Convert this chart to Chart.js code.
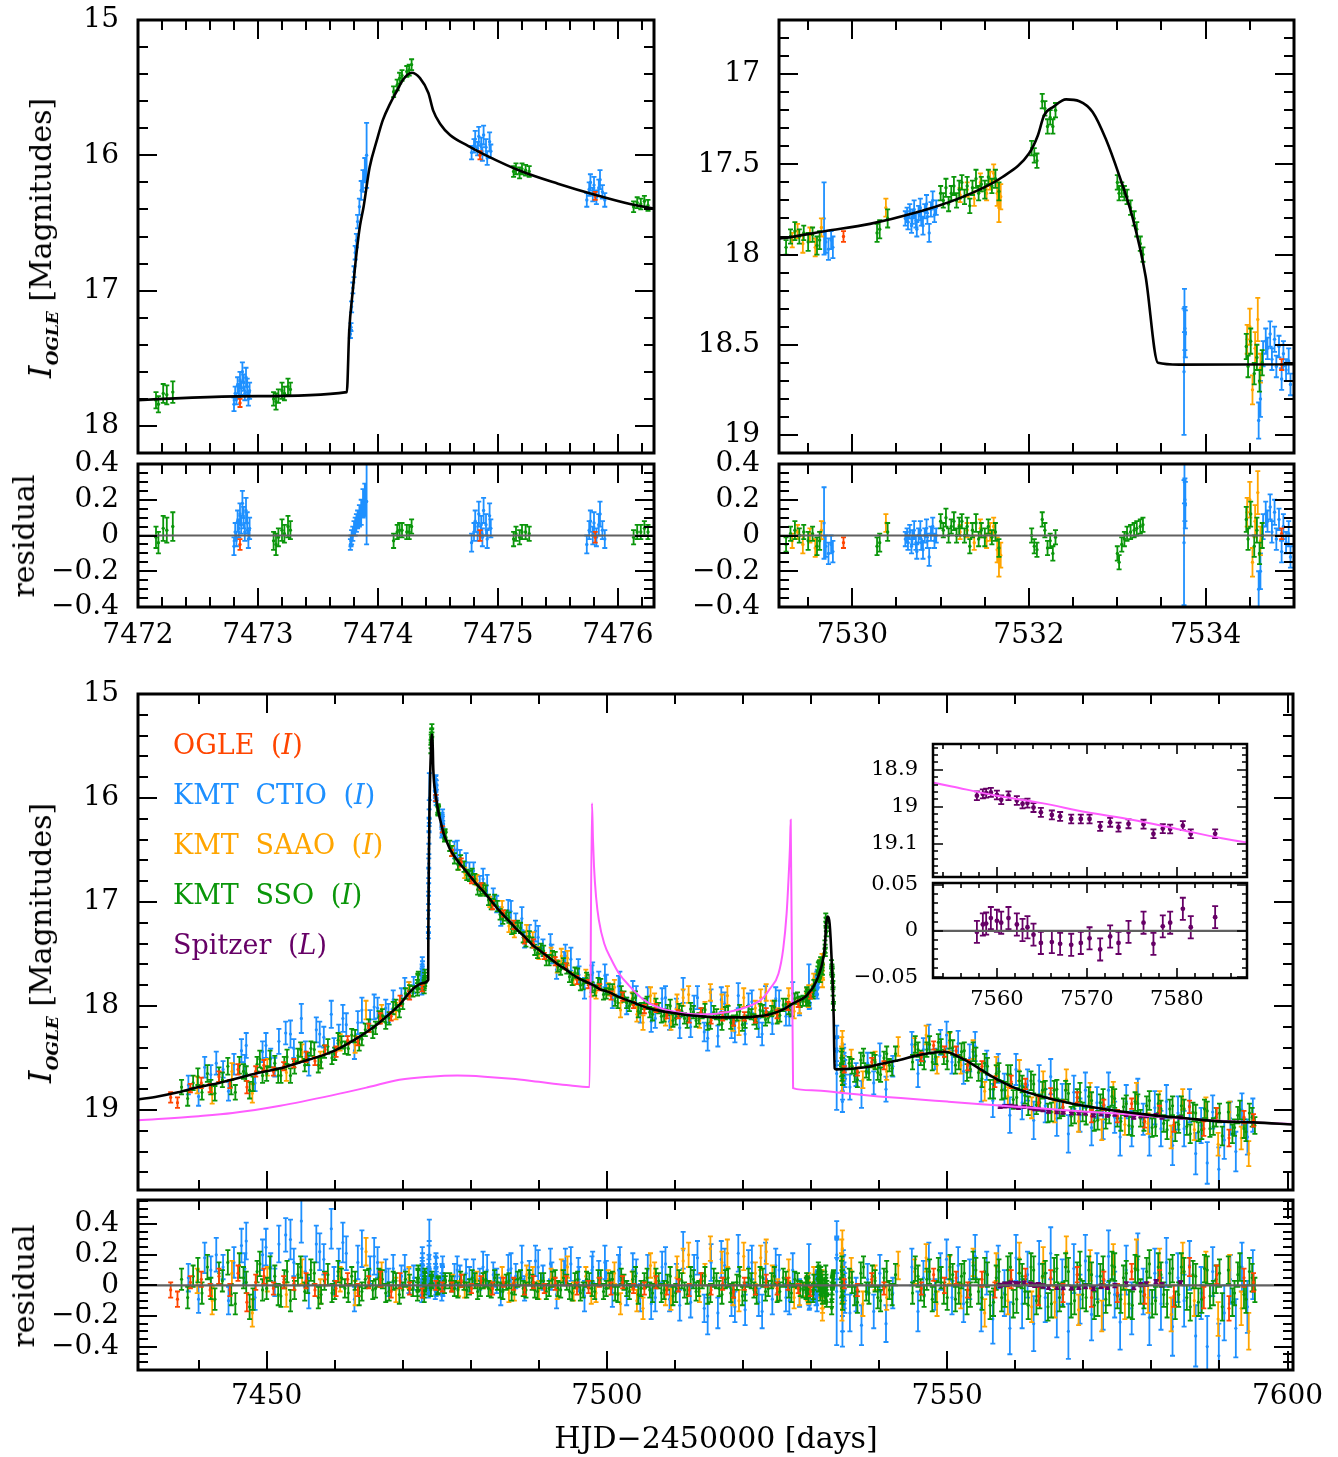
<!DOCTYPE html>
<html>
<head>
<meta charset="utf-8">
<title>OGLE / KMT / Spitzer light curve</title>
<script src="https://cdn.jsdelivr.net/npm/chart.js@4.4.1/dist/chart.umd.min.js"></script>
<style>
  body { margin: 0; background: #fff; }
  #page { position: relative; width: 1338px; height: 1457px; overflow: hidden; background: #fff; font-family: 'DejaVu Serif', serif; color: #000; }
  canvas { position: absolute; }
  .ttl { position: absolute; white-space: nowrap; font-size: 30px; line-height: 36px; }
  .rot { transform: translate(-50%, -50%) rotate(-90deg); }
  .hor { transform: translate(-50%, -50%); }
  #legend { position: absolute; left: 173px; top: 720px; font-size: 27px; line-height: 50px; word-spacing: 8px; white-space: nowrap; }
</style>
</head>
<body>
<div id="page">
  <canvas id="tl"></canvas>
  <canvas id="tlr"></canvas>
  <canvas id="tr"></canvas>
  <canvas id="trr"></canvas>
  <canvas id="main"></canvas>
  <canvas id="mainr"></canvas>
  <canvas id="ins"></canvas>
  <canvas id="insr"></canvas>

  <div class="ttl rot" style="left:46px; top:238px;"><i style="font-size:32px">I</i><sub style="font-size:17px; font-style:italic; font-weight:bold;">OGLE</sub>&nbsp;[Magnitudes]</div>
  <div class="ttl rot" style="left:24px; top:536px;">residual</div>
  <div class="ttl rot" style="left:46px; top:943px;"><i style="font-size:32px">I</i><sub style="font-size:17px; font-style:italic; font-weight:bold;">OGLE</sub>&nbsp;[Magnitudes]</div>
  <div class="ttl rot" style="left:24px; top:1286px;">residual</div>
  <div class="ttl hor" style="left:716px; top:1438px;">HJD&minus;2450000 [days]</div>

  <div id="legend">
    <div style="color:#ff4500">OGLE (<i>I</i>)</div>
    <div style="color:#1e90ff">KMT CTIO (<i>I</i>)</div>
    <div style="color:#ffa500">KMT SAAO (<i>I</i>)</div>
    <div style="color:#0a960a">KMT SSO (<i>I</i>)</div>
    <div style="color:#660066">Spitzer (<i>L</i>)</div>
  </div>
</div>

<script>
// rows: [HJD-2450000, magnitude, error, residual]
const ogle = [
  [7435.9,18.88,0.05,-0.03],[7436.9,18.93,0.05,-0.09],[7438.8,18.79,0.04,0.02],[7440.4,18.74,0.05,0.04],
  [7441.7,18.79,0.04,-0.03],[7443.0,18.68,0.05,0.06],[7444.6,18.75,0.04,-0.03],[7445.8,18.61,0.05,0.08],
  [7447.1,18.78,0.06,-0.11],[7448.4,18.63,0.05,0.02],[7449.6,18.57,0.05,0.06],[7451.0,18.63,0.04,-0.02],
  [7452.5,18.58,0.04,0.02],[7454.0,18.55,0.04,0.01],[7455.8,18.49,0.05,0.03],[7457.1,18.53,0.04,-0.03],
  [7458.6,18.42,0.04,0.04],[7460.2,18.44,0.05,-0.02],[7461.9,18.33,0.04,0.04],[7463.4,18.34,0.04,-0.03],
  [7465.0,18.21,0.04,0.02],[7466.7,18.12,0.05,0.04],[7468.3,18.10,0.04,-0.04],[7469.6,17.95,0.05,0.03],
  [7471.0,17.90,0.04,-0.02],[7472.85,17.83,0.03,-0.05],[7474.85,16.00,0.03,0.00],[7475.81,16.30,0.03,-0.01],
  [7477.2,16.53,0.03,-0.01],[7478.6,16.62,0.04,0.03],[7480.1,16.79,0.03,-0.02],[7481.5,16.85,0.03,0.03],
  [7483.2,17.03,0.04,-0.02],[7484.8,17.11,0.03,0.02],[7486.3,17.22,0.04,0.01],[7487.9,17.37,0.03,-0.03],
  [7489.2,17.40,0.04,0.02],[7490.8,17.52,0.03,-0.02],[7492.4,17.57,0.04,0.01],[7494.0,17.62,0.03,0.03],
  [7495.6,17.75,0.04,-0.02],[7497.3,17.79,0.04,-0.01],[7498.9,17.82,0.03,0.02],[7500.6,17.90,0.04,-0.02],
  [7502.3,17.91,0.04,0.02],[7503.9,17.99,0.03,-0.02],[7505.5,18.03,0.04,-0.02],[7507.2,18.02,0.04,0.02],
  [7508.8,18.09,0.03,-0.03],[7510.5,18.08,0.04,0.00],[7512.1,18.12,0.04,-0.03],[7513.8,18.06,0.04,0.04],
  [7515.3,18.14,0.03,-0.03],[7517.0,18.10,0.04,0.01],[7518.6,18.15,0.04,-0.04],[7520.2,18.10,0.04,0.01],
  [7521.8,18.13,0.03,-0.03],[7523.4,18.06,0.04,0.03],[7525.0,18.08,0.04,-0.02],[7526.6,18.00,0.04,0.01],
  [7528.1,17.98,0.03,-0.02],[7529.90,17.90,0.03,-0.04],[7534.86,18.61,0.03,0.01],
  [7536.8,18.63,0.04,-0.03],[7538.9,18.54,0.04,0.04],[7540.7,18.57,0.04,-0.02],[7546.2,18.49,0.04,-0.02],
  [7548.0,18.38,0.04,0.07],[7549.6,18.44,0.05,0.00],[7551.3,18.43,0.04,0.05],[7553.0,18.57,0.05,-0.03],
  [7555.1,18.58,0.05,0.04],[7557.0,18.73,0.05,-0.03],[7559.4,18.73,0.06,0.04],[7561.5,18.75,0.05,0.06],
  [7563.4,18.93,0.06,-0.07],[7565.2,18.84,0.05,0.05],[7567.0,18.97,0.06,-0.05],[7569.1,18.88,0.05,0.07],
  [7571.2,19.06,0.06,-0.08],[7573.0,18.95,0.05,0.04],[7575.0,19.06,0.06,-0.05],[7577.1,18.94,0.05,0.09],
  [7579.0,19.11,0.06,-0.06],[7581.2,19.01,0.05,0.05],[7583.3,19.14,0.07,-0.07],[7585.6,18.97,0.06,0.12],
  [7587.7,19.18,0.07,-0.08],[7589.6,19.04,0.06,0.07],[7591.4,19.27,0.08,-0.15],[7593.6,19.07,0.06,0.05],
  [7595.0,19.10,0.06,0.02]
];

const ctio = [
  [7440.0,18.87,0.09,-0.09],[7440.9,18.59,0.10,0.18],[7441.8,18.66,0.09,0.10],[7443.6,18.61,0.08,0.12],
  [7445.2,18.56,0.10,0.15],[7446.3,18.43,0.11,0.26],[7447.0,18.38,0.12,0.29],[7448.3,18.74,0.08,-0.08],
  [7449.4,18.44,0.10,0.20],[7450.6,18.50,0.09,0.12],[7451.8,18.34,0.12,0.27],[7452.8,18.26,0.11,0.33],
  [7454.0,18.41,0.09,0.15],[7455.1,18.12,0.14,0.42],[7456.2,18.57,0.10,-0.05],[7457.3,18.23,0.12,0.27],
  [7458.4,18.30,0.10,0.17],[7459.5,18.08,0.13,0.37],[7460.6,18.27,0.09,0.15],[7461.7,18.18,0.11,0.21],
  [7462.9,18.43,0.08,-0.09],[7464.0,18.04,0.12,0.24],[7465.2,18.13,0.09,0.10],[7466.3,18.02,0.10,0.15],
  [7467.5,18.02,0.08,0.09],[7468.6,17.94,0.09,0.11],[7469.8,17.90,0.07,0.06],[7470.9,17.85,0.08,0.03],
  [7438.5,18.76,0.09,0.05],[7442.6,18.55,0.11,0.20],[7444.4,18.82,0.09,-0.10],[7446.8,18.57,0.10,0.11],
  [7449.9,18.38,0.12,0.25],[7451.2,18.59,0.09,0.02],[7453.5,18.27,0.13,0.30],[7455.7,18.44,0.10,0.09],
  [7457.8,18.27,0.12,0.22],[7459.9,18.40,0.09,0.03],[7461.2,18.12,0.13,0.28],[7463.4,18.16,0.11,0.15],
  [7465.8,18.01,0.12,0.19],[7467.9,18.07,0.09,0.02],[7470.3,17.83,0.10,0.10],[7471.6,17.80,0.08,0.05],
  [7472.80,17.84,0.05,-0.06],[7472.81,17.76,0.05,0.02],[7472.82,17.80,0.04,-0.02],[7472.83,17.70,0.06,0.08],
  [7472.84,17.74,0.05,0.04],[7472.85,17.66,0.06,0.12],[7472.86,17.72,0.05,0.06],[7472.87,17.60,0.07,0.18],
  [7472.88,17.68,0.06,0.10],[7472.89,17.76,0.05,0.02],[7472.90,17.64,0.07,0.14],[7472.91,17.71,0.06,0.07],
  [7472.92,17.80,0.05,-0.02],[7472.93,17.74,0.06,0.04],
  [7473.770,17.32,0.03,-0.05],[7473.775,17.27,0.03,-0.03],[7473.780,17.12,0.04,-0.01],[7473.790,16.98,0.04,0.01],
  [7473.800,16.86,0.04,0.04],[7473.810,16.72,0.05,0.05],[7473.820,16.63,0.05,0.07],[7473.830,16.49,0.05,0.09],
  [7473.845,16.38,0.06,0.11],[7473.860,16.26,0.07,0.13],[7473.875,16.19,0.08,0.18],[7473.890,16.11,0.09,0.20],
  [7473.905,16.00,0.24,0.19],
  [7474.78,15.98,0.05,-0.04],[7474.80,15.93,0.05,0.02],[7474.81,15.88,0.06,0.08],[7474.83,15.95,0.05,0.02],
  [7474.84,15.86,0.07,0.12],[7474.86,15.92,0.05,0.06],[7474.87,15.99,0.05,-0.01],[7474.88,15.85,0.07,0.14],
  [7474.90,15.94,0.06,0.06],[7474.91,16.02,0.05,-0.02],[7474.93,15.90,0.07,0.11],[7474.94,15.97,0.05,0.04],
  [7475.74,16.33,0.05,-0.05],[7475.76,16.25,0.05,0.03],[7475.77,16.20,0.06,0.08],[7475.79,16.29,0.05,0.00],
  [7475.80,16.22,0.06,0.07],[7475.82,16.31,0.05,-0.01],[7475.84,16.24,0.06,0.06],[7475.85,16.18,0.07,0.12],
  [7475.87,16.27,0.05,0.03],[7475.89,16.33,0.05,-0.02],
  [7477.6,16.50,0.08,0.06],[7478.4,16.57,0.07,0.06],[7479.3,16.62,0.09,0.08],[7480.4,16.70,0.08,0.09],
  [7481.3,16.82,0.07,0.04],[7482.4,16.84,0.10,0.10],[7483.3,16.95,0.08,0.07],[7484.4,17.14,0.09,-0.04],
  [7485.5,17.08,0.10,0.10],[7486.6,17.19,0.08,0.06],[7487.5,17.16,0.11,0.15],[7488.6,17.30,0.08,0.08],
  [7489.5,17.28,0.10,0.16],[7490.6,17.44,0.08,0.05],[7491.7,17.41,0.10,0.14],[7492.6,17.65,0.09,-0.06],
  [7493.7,17.56,0.08,0.08],[7494.7,17.55,0.11,0.14],[7495.8,17.64,0.09,0.09],[7496.7,17.83,0.10,-0.07],
  [7497.8,17.70,0.09,0.10],[7498.8,17.75,0.08,0.08],[7499.7,17.71,0.11,0.15],[7500.8,17.93,0.09,-0.05],
  [7501.7,17.81,0.10,0.10],[7502.9,18.00,0.08,-0.05],[7503.8,17.87,0.11,0.10],[7504.9,18.07,0.09,-0.08],
  [7506.0,17.92,0.10,0.10],[7507.1,18.12,0.09,-0.08],[7508.1,17.93,0.10,0.12],[7509.2,18.15,0.08,-0.09],
  [7510.2,18.02,0.09,0.05],[7511.2,17.85,0.12,0.23],[7512.3,18.20,0.10,-0.11],[7513.3,17.92,0.11,0.18],
  [7514.3,18.25,0.09,-0.15],[7515.3,17.96,0.12,0.15],[7516.3,18.29,0.10,-0.18],[7517.3,17.98,0.11,0.13],
  [7518.3,18.22,0.09,-0.11],[7519.3,17.90,0.12,0.21],[7520.3,18.27,0.10,-0.16],[7521.3,17.96,0.11,0.15],
  [7522.3,18.21,0.09,-0.11],[7523.3,17.93,0.12,0.16],[7524.3,18.17,0.10,-0.09],[7525.3,17.95,0.10,0.10],
  [7526.3,18.10,0.09,-0.08],[7527.3,17.88,0.11,0.10],[7528.3,18.00,0.09,-0.05],
  [7478.0,16.50,0.09,0.10],[7479.8,16.70,0.08,0.04],[7481.8,16.78,0.10,0.12],[7483.8,17.02,0.08,0.03],
  [7485.9,17.09,0.10,0.11],[7487.9,17.36,0.08,-0.02],[7489.9,17.34,0.11,0.12],[7491.9,17.50,0.09,0.06],
  [7493.9,17.52,0.11,0.13],[7495.9,17.70,0.08,0.04],[7497.9,17.68,0.10,0.12],[7499.9,17.79,0.09,0.07],
  [7501.9,17.78,0.11,0.14],[7504.3,17.90,0.09,0.08],[7506.5,18.15,0.10,-0.12],[7508.6,17.92,0.11,0.14],
  [7510.7,18.21,0.10,-0.13],[7512.8,18.00,0.10,0.10],[7514.8,18.31,0.12,-0.20],[7516.8,17.94,0.12,0.17],
  [7518.8,18.25,0.10,-0.14],[7520.8,17.99,0.11,0.12],[7522.8,18.27,0.11,-0.17],[7524.8,17.93,0.11,0.13],
  [7526.8,18.10,0.09,-0.10],
  [7529.68,17.80,0.20,0.07],[7529.70,17.93,0.06,-0.06],[7529.73,17.97,0.06,-0.10],[7529.76,17.92,0.05,-0.05],
  [7529.78,17.96,0.06,-0.09],
  [7530.60,17.80,0.04,-0.02],[7530.62,17.78,0.04,0.00],[7530.63,17.82,0.04,-0.04],[7530.65,17.76,0.04,0.02],
  [7530.67,17.84,0.04,-0.06],[7530.68,17.79,0.04,-0.01],[7530.70,17.75,0.05,0.03],[7530.72,17.81,0.04,-0.04],
  [7530.73,17.86,0.04,-0.09],[7530.75,17.77,0.04,0.00],[7530.77,17.74,0.05,0.03],[7530.78,17.80,0.04,-0.04],
  [7530.80,17.84,0.05,-0.08],[7530.82,17.76,0.04,0.00],[7530.84,17.72,0.05,0.04],[7530.85,17.79,0.04,-0.03],
  [7530.87,17.88,0.05,-0.12],[7530.89,17.75,0.04,0.01],[7530.91,17.70,0.05,0.05],[7530.93,17.78,0.04,-0.03],
  [7530.95,17.74,0.04,0.00],
  [7533.755,18.65,0.35,-0.04],[7533.760,18.31,0.12,0.30],[7533.765,18.41,0.12,0.20],[7533.770,18.44,0.13,0.17],
  [7534.60,18.92,0.10,-0.30],[7534.62,18.80,0.10,-0.20],[7534.65,18.55,0.07,0.05],[7534.68,18.48,0.07,0.12],
  [7534.70,18.52,0.06,0.08],[7534.73,18.44,0.07,0.16],[7534.75,18.58,0.06,0.02],[7534.78,18.47,0.07,0.13],
  [7534.80,18.62,0.06,-0.02],[7534.83,18.51,0.06,0.09],[7534.86,18.69,0.06,-0.09],[7534.88,18.55,0.07,0.05],
  [7534.91,18.64,0.06,-0.04],[7534.94,18.59,0.07,0.01],[7534.96,18.72,0.06,-0.12],
  [7535.7,18.78,0.12,-0.18],[7536.6,18.66,0.11,-0.06],[7537.4,18.85,0.13,-0.26],[7538.3,18.55,0.10,0.04],
  [7539.2,18.74,0.11,-0.17],[7540.1,18.48,0.12,0.08],[7541.0,18.80,0.12,-0.25],[7542.0,18.58,0.10,-0.05],
  [7544.8,18.37,0.12,0.12],[7545.7,18.65,0.13,-0.17],[7546.5,18.42,0.11,0.05],[7547.3,18.30,0.12,0.16],
  [7548.2,18.51,0.10,-0.06],[7549.0,18.35,0.12,0.09],[7549.9,18.28,0.13,0.17],[7550.7,18.54,0.11,-0.08],
  [7551.6,18.36,0.12,0.13],[7552.4,18.63,0.12,-0.12],[7553.3,18.50,0.13,0.04],[7554.1,18.39,0.14,0.19],
  [7555.0,18.77,0.15,-0.15],[7555.8,18.57,0.14,0.08],[7556.7,18.91,0.16,-0.22],[7557.5,18.60,0.14,0.12],
  [7558.4,18.80,0.15,-0.05],[7559.2,19.05,0.17,-0.28],[7560.1,18.61,0.15,0.18],[7561.0,18.93,0.16,-0.12],
  [7561.8,18.76,0.15,0.07],[7562.7,19.10,0.18,-0.25],[7563.5,18.72,0.15,0.14],[7564.4,18.96,0.16,-0.08],
  [7565.2,18.68,0.17,0.21],[7566.1,19.08,0.17,-0.17],[7566.9,18.90,0.15,0.02],[7567.8,19.23,0.18,-0.30],
  [7568.6,18.83,0.16,0.11],[7569.5,19.05,0.16,-0.09],[7570.3,18.81,0.17,0.16],[7571.2,19.17,0.17,-0.19],
  [7572.0,18.93,0.15,0.06],[7572.9,19.12,0.16,-0.13],[7573.7,18.81,0.17,0.19],[7574.6,19.07,0.15,-0.06],
  [7575.4,19.26,0.18,-0.24],[7576.3,18.92,0.16,0.10],[7577.1,19.18,0.17,-0.15],[7578.0,18.87,0.17,0.17],
  [7578.8,19.09,0.15,-0.04],[7579.7,19.26,0.18,-0.21],[7580.5,18.98,0.16,0.08],[7581.4,19.18,0.17,-0.12],
  [7582.2,18.92,0.16,0.15],[7583.1,19.34,0.19,-0.27],[7583.9,19.03,0.16,0.05],[7584.8,19.18,0.17,-0.10],
  [7585.6,18.96,0.16,0.13],[7586.5,19.42,0.20,-0.33],[7587.3,19.15,0.17,-0.05],[7588.2,19.51,0.20,-0.40],
  [7589.0,19.02,0.16,0.09],[7589.9,19.57,0.21,-0.46],[7590.7,19.29,0.18,-0.18],[7591.6,19.08,0.16,0.04],
  [7592.4,19.40,0.19,-0.28],[7593.3,19.00,0.16,0.12],[7594.1,19.26,0.17,-0.14],[7594.9,19.05,0.16,0.07]
];

const saao = [
  [7439.8,18.76,0.08,0.03],[7442.0,18.85,0.09,-0.10],[7444.9,18.63,0.08,0.08],[7447.9,18.84,0.09,-0.18],
  [7450.1,18.59,0.08,0.04],[7452.9,18.64,0.08,-0.06],[7455.2,18.45,0.08,0.09],[7457.9,18.52,0.08,-0.04],
  [7460.8,18.35,0.08,0.04],[7463.0,18.37,0.08,-0.05],[7464.6,18.04,0.09,0.22],[7466.9,18.07,0.08,0.07],
  [7469.0,18.05,0.08,-0.03],[7470.9,17.84,0.07,0.05],
  [7477.3,16.51,0.05,0.02],[7479.1,16.72,0.05,-0.03],[7480.9,16.79,0.05,0.04],[7482.8,17.00,0.05,-0.02],
  [7484.6,17.05,0.06,0.06],[7486.4,17.28,0.06,-0.04],[7488.2,17.28,0.06,0.07],[7490.0,17.49,0.06,-0.03],
  [7491.8,17.50,0.06,0.05],[7493.3,17.52,0.07,0.10],[7495.1,17.74,0.06,-0.04],[7496.9,17.71,0.06,0.06],
  [7498.4,17.87,0.06,-0.05],[7500.2,17.84,0.06,0.04],[7502.0,18.04,0.07,-0.12],[7503.7,17.93,0.06,0.03],
  [7505.3,18.16,0.07,-0.15],[7507.0,17.95,0.07,0.08],[7508.6,18.12,0.07,-0.06],[7510.3,17.96,0.07,0.12],
  [7512.0,17.89,0.08,0.20],[7513.6,18.14,0.07,-0.04],[7515.2,17.87,0.08,0.24],[7516.9,17.96,0.07,0.15],
  [7518.5,18.17,0.07,-0.06],[7520.1,17.92,0.09,0.19],[7521.8,18.02,0.07,0.08],[7523.4,17.87,0.08,0.22],
  [7525.1,18.09,0.07,-0.03],[7526.7,17.90,0.07,0.10],[7528.3,18.00,0.07,-0.06],
  [7478.2,16.64,0.05,-0.02],[7481.9,16.88,0.05,0.03],[7485.6,17.23,0.06,-0.05],[7489.1,17.35,0.06,0.06],
  [7492.7,17.62,0.06,-0.03],[7494.2,17.54,0.07,0.12],[7497.7,17.85,0.06,-0.06],[7501.1,17.82,0.07,0.08],
  [7504.4,18.08,0.07,-0.10],[7506.4,17.90,0.08,0.13],[7509.4,18.16,0.07,-0.09],[7511.2,17.92,0.08,0.16],
  [7514.4,18.03,0.07,0.07],[7517.7,17.90,0.09,0.21],[7519.4,18.21,0.07,-0.10],[7522.6,17.92,0.08,0.18],
  [7524.3,18.02,0.07,0.06],[7527.5,18.05,0.07,-0.08],
  [7529.32,17.92,0.04,-0.03],[7529.38,17.87,0.04,0.02],[7529.44,17.94,0.05,-0.05],[7529.52,17.89,0.04,0.00],
  [7529.58,17.96,0.05,-0.07],[7529.65,17.85,0.05,0.03],[7530.38,17.74,0.05,0.07],
  [7531.22,17.67,0.04,0.02],[7531.30,17.64,0.04,0.03],[7531.38,17.69,0.04,-0.04],[7531.45,17.60,0.05,0.04],
  [7531.52,17.66,0.04,-0.03],[7531.56,17.59,0.05,0.02],[7531.60,17.55,0.05,0.05],[7531.64,17.66,0.07,-0.08],
  [7531.66,17.74,0.08,-0.15],[7531.68,17.68,0.07,-0.11],
  [7534.47,18.47,0.08,0.13],[7534.50,18.40,0.10,0.20],[7534.53,18.75,0.08,-0.15],[7534.56,18.52,0.09,0.08],
  [7534.59,18.36,0.12,0.24],[7534.62,18.63,0.08,-0.03],
  [7535.9,18.50,0.08,0.10],[7537.6,18.71,0.08,-0.12],[7539.4,18.52,0.08,0.05],[7541.1,18.63,0.08,-0.08],
  [7542.8,18.39,0.09,0.13],[7545.2,18.39,0.08,0.09],[7546.9,18.28,0.09,0.18],[7548.5,18.57,0.08,-0.12],
  [7550.3,18.35,0.09,0.10],[7552.0,18.57,0.08,-0.07],[7553.8,18.42,0.09,0.15],[7555.5,18.82,0.09,-0.18],
  [7557.2,18.58,0.09,0.12],[7558.9,18.87,0.09,-0.10],[7560.6,18.62,0.10,0.18],[7562.4,18.98,0.10,-0.14],
  [7564.1,18.73,0.10,0.15],[7565.8,19.02,0.10,-0.11],[7567.5,18.71,0.10,0.22],[7569.3,19.11,0.10,-0.16],
  [7571.0,18.84,0.10,0.13],[7572.7,19.19,0.10,-0.20],[7574.4,18.83,0.10,0.17],[7576.1,19.14,0.10,-0.12],
  [7577.8,18.84,0.10,0.20],[7579.5,19.13,0.10,-0.08],[7581.2,18.92,0.10,0.14],[7582.9,19.26,0.11,-0.19],
  [7584.6,18.90,0.10,0.18],[7586.3,19.19,0.10,-0.10],[7588.0,18.98,0.10,0.12],[7589.8,19.33,0.11,-0.22],
  [7591.5,19.02,0.10,0.10],[7593.2,19.27,0.11,-0.15],[7594.3,19.42,0.12,-0.30]
];

const sso = [
  [7439.2,18.74,0.07,0.06],[7440.5,18.83,0.07,-0.05],[7441.3,18.65,0.08,0.12],[7442.4,18.84,0.07,-0.09],
  [7443.5,18.71,0.07,0.03],[7444.3,18.58,0.08,0.15],[7445.4,18.83,0.07,-0.12],[7446.6,18.63,0.07,0.05],
  [7447.5,18.81,0.08,-0.14],[7448.6,18.56,0.07,0.09],[7449.4,18.67,0.07,-0.03],[7450.5,18.51,0.08,0.11],
  [7451.7,18.67,0.07,-0.06],[7452.6,18.55,0.06,0.04],[7453.5,18.67,0.07,-0.10],[7454.6,18.48,0.07,0.07],
  [7455.6,18.57,0.06,-0.04],[7456.5,18.41,0.07,0.10],[7457.6,18.57,0.07,-0.08],[7458.5,18.44,0.06,0.03],
  [7459.6,18.50,0.06,-0.05],[7460.5,18.33,0.07,0.09],[7461.5,18.40,0.06,-0.02],[7462.5,18.28,0.06,0.06],
  [7463.6,18.37,0.06,-0.07],[7464.5,18.23,0.06,0.04],[7465.6,18.25,0.06,-0.03],[7466.5,18.11,0.06,0.05],
  [7467.5,18.16,0.06,-0.05],[7468.6,18.02,0.06,0.03],[7469.5,18.05,0.06,-0.06],[7470.4,17.88,0.05,0.04],
  [7471.5,17.86,0.05,-0.02],
  [7437.5,18.78,0.07,0.04],[7438.4,18.89,0.07,-0.08],[7439.9,18.68,0.08,0.10],[7441.8,18.78,0.07,-0.02],
  [7443.0,18.66,0.07,0.08],[7444.8,18.78,0.07,-0.06],[7446.0,18.57,0.08,0.13],[7447.0,18.65,0.07,0.02],
  [7448.0,18.75,0.07,-0.09],[7449.0,18.51,0.08,0.14],[7450.0,18.65,0.07,-0.02],[7451.2,18.55,0.07,0.06],
  [7452.1,18.67,0.07,-0.07],[7453.0,18.49,0.07,0.09],[7454.1,18.59,0.06,-0.03],[7455.0,18.42,0.07,0.12],
  [7456.0,18.51,0.06,0.01],[7457.0,18.42,0.07,0.08],[7458.0,18.54,0.06,-0.06],[7459.0,18.39,0.07,0.07],
  [7460.0,18.46,0.06,-0.03],[7461.0,18.35,0.06,0.05],[7462.0,18.41,0.06,-0.05],[7463.0,18.29,0.06,0.03],
  [7464.0,18.32,0.06,-0.04],[7465.0,18.19,0.06,0.05],[7466.0,18.21,0.06,-0.02],[7467.0,18.09,0.06,0.04],
  [7468.0,18.12,0.06,-0.04],[7469.0,17.99,0.05,0.03],[7470.0,17.98,0.05,-0.03],[7471.0,17.85,0.05,0.02],
  [7472.15,17.81,0.06,-0.01],[7472.17,17.84,0.06,-0.04],[7472.21,17.76,0.07,0.04],[7472.24,17.77,0.07,0.03],
  [7472.29,17.75,0.08,0.05],
  [7473.13,17.80,0.05,-0.03],[7473.15,17.82,0.06,-0.05],[7473.17,17.78,0.05,-0.01],[7473.20,17.74,0.06,0.03],
  [7473.22,17.76,0.05,0.01],[7473.25,17.71,0.06,0.05],[7473.27,17.73,0.05,0.03],
  [7474.13,15.53,0.04,-0.03],[7474.16,15.48,0.04,0.02],[7474.18,15.43,0.04,0.03],[7474.20,15.41,0.04,0.03],
  [7474.24,15.38,0.04,0.02],[7474.26,15.37,0.04,0.02],[7474.28,15.33,0.04,0.05],
  [7475.13,16.12,0.04,-0.02],[7475.15,16.10,0.04,0.01],[7475.18,16.13,0.04,-0.01],[7475.20,16.10,0.04,0.02],
  [7475.23,16.11,0.04,0.02],[7475.26,16.12,0.04,0.01],
  [7476.13,16.38,0.04,-0.01],[7476.16,16.35,0.04,0.02],[7476.19,16.36,0.04,0.02],[7476.22,16.34,0.04,0.04],
  [7476.25,16.37,0.04,0.02],
  [7476.9,16.46,0.05,0.03],[7477.6,16.58,0.05,-0.02],[7478.5,16.60,0.05,0.04],[7479.4,16.74,0.05,-0.03],
  [7480.2,16.73,0.05,0.05],[7481.0,16.88,0.05,-0.04],[7481.8,16.87,0.05,0.03],[7482.6,16.98,0.05,-0.02],
  [7483.5,16.98,0.05,0.05],[7484.3,17.12,0.05,-0.03],[7485.2,17.13,0.05,0.02],[7486.0,17.26,0.05,-0.05],
  [7486.9,17.23,0.05,0.04],[7487.7,17.34,0.05,-0.02],[7488.6,17.33,0.05,0.05],[7489.4,17.46,0.05,-0.03],
  [7490.3,17.45,0.05,0.03],[7491.1,17.56,0.05,-0.04],[7492.0,17.52,0.05,0.04],[7492.8,17.62,0.05,-0.02],
  [7493.6,17.59,0.05,0.05],[7494.5,17.72,0.05,-0.04],[7495.3,17.68,0.05,0.03],[7496.1,17.80,0.05,-0.05],
  [7497.0,17.73,0.05,0.04],[7497.8,17.82,0.05,-0.02],[7498.7,17.78,0.05,0.05],[7499.5,17.89,0.05,-0.04],
  [7500.4,17.84,0.05,0.03],[7501.2,17.95,0.05,-0.05],[7502.1,17.86,0.05,0.06],[7502.9,17.97,0.05,-0.02],
  [7503.8,17.93,0.05,0.04],[7504.6,18.05,0.06,-0.06],[7505.5,17.98,0.05,0.03],[7506.3,18.06,0.05,-0.03],
  [7507.2,17.99,0.06,0.05],[7508.0,18.10,0.06,-0.05],[7508.9,18.04,0.05,0.02],[7509.7,18.14,0.06,-0.07],
  [7510.6,18.04,0.06,0.04],[7511.4,18.12,0.05,-0.03],[7512.3,18.03,0.06,0.06],[7513.1,18.14,0.06,-0.04],
  [7514.0,18.07,0.05,0.03],[7514.8,18.17,0.06,-0.06],[7515.7,18.06,0.06,0.05],[7516.5,18.13,0.05,-0.02],
  [7517.4,18.07,0.06,0.04],[7518.2,18.16,0.06,-0.05],[7519.1,18.09,0.05,0.02],[7519.9,18.18,0.06,-0.07],
  [7520.8,18.06,0.06,0.05],[7521.6,18.13,0.05,-0.03],[7522.5,18.04,0.06,0.06],[7523.3,18.13,0.06,-0.04],
  [7524.2,18.05,0.05,0.03],[7525.0,18.11,0.06,-0.05],[7525.9,17.99,0.06,0.05],[7526.7,18.03,0.05,-0.03],
  [7527.6,17.93,0.05,0.04],[7528.4,17.96,0.05,-0.02],
  [7477.2,16.51,0.05,0.01],[7478.1,16.64,0.05,-0.03],[7479.0,16.66,0.05,0.02],[7479.8,16.75,0.05,-0.01],
  [7480.6,16.78,0.05,0.03],[7481.4,16.89,0.05,-0.02],[7482.2,16.89,0.05,0.04],[7483.0,17.02,0.05,-0.03],
  [7483.9,17.04,0.05,0.02],[7484.7,17.16,0.05,-0.04],[7485.6,17.15,0.05,0.03],[7486.4,17.25,0.05,-0.01],
  [7487.3,17.25,0.05,0.05],[7488.1,17.38,0.05,-0.03],[7489.0,17.39,0.05,0.02],[7489.8,17.49,0.05,-0.04],
  [7490.7,17.47,0.05,0.03],[7491.5,17.56,0.05,-0.02],[7492.4,17.53,0.05,0.05],[7493.2,17.65,0.05,-0.03],
  [7494.1,17.64,0.05,0.02],[7494.9,17.75,0.05,-0.05],[7495.7,17.69,0.05,0.04],[7496.5,17.79,0.05,-0.03],
  [7497.4,17.75,0.05,0.03],[7498.2,17.85,0.05,-0.04],[7499.1,17.79,0.05,0.05],[7499.9,17.88,0.05,-0.02],
  [7500.8,17.84,0.05,0.04],[7501.6,17.97,0.05,-0.06],[7502.5,17.91,0.05,0.02],[7503.3,18.00,0.05,-0.04],
  [7504.2,17.92,0.06,0.06],[7505.0,18.02,0.05,-0.02],[7505.9,17.97,0.06,0.05],[7506.7,18.08,0.06,-0.05],
  [7507.6,18.02,0.05,0.03],[7508.4,18.09,0.06,-0.03],[7509.3,18.00,0.06,0.06],[7510.1,18.12,0.06,-0.05],
  [7511.0,18.05,0.05,0.03],[7511.8,18.15,0.06,-0.06],[7512.7,18.06,0.06,0.04],[7513.5,18.12,0.05,-0.02],
  [7514.4,18.04,0.06,0.06],[7515.2,18.16,0.06,-0.05],[7516.1,18.08,0.05,0.03],[7516.9,18.17,0.06,-0.06],
  [7517.8,18.06,0.06,0.05],[7518.6,18.14,0.05,-0.03],[7519.5,18.05,0.06,0.06],[7520.3,18.15,0.06,-0.04],
  [7521.2,18.08,0.05,0.03],[7522.0,18.16,0.06,-0.06],[7522.9,18.05,0.06,0.05],[7523.7,18.11,0.05,-0.02],
  [7524.6,18.01,0.06,0.06],[7525.4,18.09,0.06,-0.04],[7526.3,17.98,0.05,0.04],[7527.1,18.04,0.06,-0.05],
  [7528.0,17.92,0.05,0.03],[7528.8,17.95,0.05,-0.03],
  [7529.25,17.96,0.04,-0.05],[7529.30,17.90,0.04,0.01],[7529.35,17.87,0.05,0.03],[7529.40,17.90,0.04,0.00],
  [7529.45,17.88,0.04,0.02],[7529.50,17.93,0.05,-0.03],[7529.55,17.89,0.04,0.01],[7529.60,17.95,0.05,-0.06],
  [7529.63,17.92,0.05,-0.03],
  [7530.28,17.88,0.05,-0.06],[7530.31,17.86,0.05,-0.04],[7530.40,17.80,0.05,0.02],
  [7531.00,17.66,0.04,0.08],[7531.03,17.70,0.04,0.03],[7531.06,17.63,0.05,0.10],[7531.09,17.72,0.04,0.00],
  [7531.12,17.66,0.04,0.05],[7531.15,17.62,0.05,0.08],[7531.18,17.70,0.04,0.00],[7531.21,17.64,0.05,0.05],
  [7531.24,17.60,0.04,0.08],[7531.27,17.68,0.04,0.00],[7531.30,17.62,0.05,0.05],[7531.33,17.73,0.04,-0.06],
  [7531.36,17.63,0.04,0.03],[7531.40,17.58,0.05,0.07],[7531.43,17.66,0.04,-0.02],[7531.46,17.61,0.04,0.03],
  [7531.50,17.64,0.05,-0.01],[7531.54,17.57,0.04,0.05],[7531.58,17.62,0.04,-0.01],[7531.62,17.58,0.05,0.02],
  [7531.66,17.65,0.05,-0.07],
  [7532.03,17.41,0.04,0.00],[7532.06,17.45,0.04,-0.06],[7532.09,17.48,0.04,-0.08],[7532.15,17.15,0.04,0.09],
  [7532.18,17.19,0.04,0.03],[7532.21,17.29,0.04,-0.07],[7532.24,17.24,0.04,-0.03],[7532.27,17.29,0.04,-0.10],
  [7532.30,17.20,0.04,-0.01],
  [7533.00,17.60,0.04,-0.10],[7533.02,17.66,0.04,-0.15],[7533.05,17.64,0.04,-0.05],[7533.08,17.66,0.04,-0.02],
  [7533.11,17.68,0.04,0.01],[7533.15,17.74,0.04,0.02],[7533.19,17.80,0.04,0.03],[7533.22,17.86,0.04,0.04],
  [7533.26,17.94,0.04,0.05],[7533.29,18.00,0.04,0.06],
  [7534.46,18.51,0.07,0.09],[7534.48,18.62,0.06,-0.02],[7534.51,18.48,0.07,0.12],[7534.55,18.66,0.06,-0.06],
  [7534.58,18.57,0.07,0.03],[7534.61,18.70,0.06,-0.10],[7534.64,18.60,0.07,0.00],
  [7535.6,18.55,0.06,0.05],[7536.4,18.67,0.06,-0.07],[7537.3,18.52,0.07,0.08],[7538.1,18.63,0.06,-0.04],
  [7539.0,18.52,0.07,0.06],[7539.8,18.64,0.07,-0.08],[7540.7,18.50,0.06,0.05],[7541.5,18.57,0.06,-0.03],
  [7542.4,18.46,0.07,0.07],[7544.9,18.54,0.07,-0.05],[7545.7,18.42,0.07,0.06],[7546.6,18.54,0.07,-0.07],
  [7547.4,18.37,0.08,0.09],[7548.3,18.49,0.07,-0.04],[7549.1,18.39,0.07,0.05],[7550.0,18.53,0.08,-0.08],
  [7550.8,18.40,0.07,0.07],[7551.7,18.54,0.07,-0.05],[7552.5,18.43,0.08,0.08],[7553.4,18.61,0.08,-0.06],
  [7554.2,18.48,0.08,0.10],[7555.1,18.70,0.08,-0.08],[7555.9,18.58,0.08,0.07],[7556.8,18.80,0.09,-0.11],
  [7557.6,18.63,0.08,0.09],[7558.5,18.81,0.08,-0.06],[7559.3,18.66,0.09,0.12],[7560.2,18.88,0.09,-0.09],
  [7561.0,18.75,0.08,0.06],[7561.9,18.96,0.09,-0.13],[7562.7,18.75,0.09,0.10],[7563.6,18.93,0.08,-0.07],
  [7564.4,18.80,0.08,0.08],[7565.3,19.02,0.09,-0.12],[7566.1,18.80,0.09,0.11],[7567.0,18.98,0.08,-0.06],
  [7567.8,18.84,0.09,0.09],[7568.7,19.04,0.09,-0.10],[7569.5,18.83,0.09,0.13],[7570.4,19.05,0.09,-0.08],
  [7571.2,18.91,0.08,0.07],[7572.1,19.10,0.09,-0.11],[7572.9,18.89,0.09,0.10],[7573.8,19.05,0.08,-0.05],
  [7574.6,18.89,0.09,0.12],[7575.5,19.11,0.09,-0.09],[7576.3,18.94,0.08,0.08],[7577.2,19.16,0.09,-0.13],
  [7578.0,18.94,0.09,0.10],[7578.9,19.12,0.08,-0.07],[7579.7,18.91,0.09,0.14],[7580.6,19.16,0.09,-0.10],
  [7581.4,18.99,0.08,0.07],[7582.3,19.19,0.09,-0.12],[7583.1,18.96,0.09,0.11],[7584.0,19.14,0.08,-0.06],
  [7584.8,18.99,0.09,0.09],[7585.7,19.23,0.09,-0.14],[7586.5,19.03,0.08,0.06],[7587.4,19.19,0.09,-0.09],
  [7588.2,19.01,0.09,0.10],[7589.1,19.16,0.08,-0.05],[7590.0,19.03,0.09,0.08],[7591.9,19.23,0.09,-0.11],
  [7592.7,19.05,0.08,0.07],[7593.6,19.18,0.09,-0.06],[7594.4,19.03,0.09,0.09],[7595.2,19.15,0.08,-0.03],
  [7536.0,18.58,0.07,0.02],[7536.8,18.71,0.07,-0.11],[7537.7,18.48,0.07,0.12],[7538.5,18.64,0.07,-0.05],
  [7539.4,18.54,0.07,0.03],[7540.2,18.66,0.07,-0.10],[7541.1,18.46,0.07,0.09],[7541.9,18.60,0.07,-0.06],
  [7545.3,18.37,0.08,0.11],[7546.1,18.50,0.07,-0.03],[7547.0,18.42,0.07,0.04],[7547.8,18.54,0.08,-0.09],
  [7548.7,18.35,0.08,0.10],[7549.5,18.49,0.07,-0.05],[7550.4,18.33,0.08,0.12],[7551.2,18.57,0.08,-0.09],
  [7552.1,18.44,0.08,0.06],[7552.9,18.64,0.08,-0.11],[7553.8,18.44,0.09,0.13],[7554.6,18.64,0.08,-0.04],
  [7555.5,18.55,0.09,0.09],[7556.3,18.80,0.09,-0.13],[7557.2,18.65,0.08,0.05],[7558.0,18.81,0.09,-0.08],
  [7558.9,18.66,0.09,0.10],[7559.7,18.90,0.09,-0.12],[7560.6,18.72,0.09,0.08],[7561.4,18.86,0.08,-0.04],
  [7562.3,18.72,0.09,0.12],[7563.1,18.95,0.09,-0.10],[7564.0,18.81,0.08,0.06],[7564.8,19.03,0.09,-0.14],
  [7565.7,18.81,0.09,0.09],[7566.5,18.99,0.09,-0.08],[7567.4,18.81,0.09,0.12],[7568.2,19.06,0.09,-0.12],
  [7569.1,18.88,0.08,0.07],[7569.9,19.02,0.09,-0.06],[7570.8,18.87,0.09,0.10],[7571.6,19.11,0.09,-0.13],
  [7572.5,18.93,0.08,0.06],[7573.3,19.09,0.09,-0.09],[7574.2,18.87,0.09,0.13],[7575.0,19.08,0.08,-0.07],
  [7575.9,18.97,0.08,0.05],[7576.7,19.15,0.09,-0.12],[7577.6,18.92,0.09,0.11],[7578.4,19.08,0.08,-0.04],
  [7579.3,18.96,0.09,0.09],[7580.1,19.17,0.09,-0.12],[7581.0,18.94,0.09,0.12],[7581.8,19.13,0.08,-0.06],
  [7582.7,18.99,0.09,0.08],[7583.5,19.21,0.09,-0.13],[7584.4,18.96,0.09,0.12],[7585.2,19.16,0.08,-0.08],
  [7586.1,19.02,0.09,0.07],[7586.9,19.21,0.09,-0.11],[7587.8,18.99,0.09,0.11],[7588.6,19.18,0.08,-0.07],
  [7589.5,19.07,0.09,0.04],[7590.4,19.25,0.09,-0.14],[7591.3,19.02,0.09,0.10],[7592.2,19.17,0.08,-0.05],
  [7593.0,19.00,0.09,0.12],[7593.9,19.21,0.09,-0.09],[7594.8,19.07,0.09,0.05]
];

const spitzer = [
  [7557.78,18.970,0.012,-0.001],[7558.44,18.965,0.012,0.007],[7558.81,18.963,0.012,0.008],[7559.33,18.961,0.012,0.014],
  [7560.00,18.968,0.012,0.011],[7560.48,18.981,0.012,0.009],[7561.29,18.970,0.012,0.014],[7562.22,18.983,0.012,0.007],
  [7562.85,18.992,0.012,0.001],[7563.40,18.990,0.012,0.004],[7564.07,19.002,0.012,-0.004],[7564.89,19.015,0.012,-0.013],
  [7566.11,19.022,0.012,-0.012],[7567.03,19.026,0.012,-0.014],[7568.26,19.033,0.012,-0.015],[7569.33,19.033,0.012,-0.013],
  [7570.30,19.033,0.012,-0.008],[7571.48,19.053,0.012,-0.020],[7572.59,19.042,0.012,-0.006],[7573.52,19.055,0.012,-0.013],
  [7574.63,19.046,0.012,-0.001],[7576.30,19.047,0.012,0.009],[7577.40,19.073,0.012,-0.014],[7578.44,19.059,0.012,0.005],
  [7579.26,19.060,0.012,0.009],[7580.67,19.051,0.012,0.024],[7581.55,19.073,0.012,0.004],[7584.26,19.073,0.012,0.015]
];

// best-fit ground model (black)
const modelT = [7431.1,7434,7437,7440,7443,7446,7449,7452,7455,7458,7460,7462,7464,7466,7468,7469.5,7471,7472,7473,
  7473.74,7473.76,7473.79,7473.82,7473.85,7473.88,7473.93,7473.99,7474.04,7474.10,7474.16,7474.21,7474.28,7474.35,
  7474.42,7474.46,7474.52,7474.60,7474.75,7474.90,7475.20,7475.50,7475.80,7476.10,7476.40,7477,7478,7479,7480,7481,
  7482,7483,7484,7485,7486,7487,7488,7489,7490,7491,7492,7493,7494,7495,7496,7497,7498,7499,7500,7502,7504,7506,
  7508,7510,7512,7514,7516,7520,7522,7524,7526,7527.5,7529.2,7529.7,7530.2,7530.7,7531.2,7531.7,7532.0,7532.1,
  7532.17,7532.28,7532.42,7532.57,7532.72,7532.87,7533.02,7533.17,7533.32,7533.46,7533.7,7538,7540,7543,7545.3,
  7547.8,7549.7,7551.7,7554.2,7556.6,7560,7565,7570,7575,7580,7585,7590,7595,7600.8];
const modelMag = [18.90,18.87,18.83,18.78,18.74,18.69,18.64,18.60,18.54,18.48,18.43,18.36,18.28,18.19,18.08,17.99,17.87,17.81,17.78,
  17.75,17.30,17.00,16.73,16.52,16.38,16.09,15.89,15.74,15.62,15.52,15.44,15.39,15.43,
  15.54,15.67,15.77,15.85,15.93,16.00,16.12,16.21,16.29,16.36,16.41,16.50,16.60,16.68,16.76,16.84,
  16.91,16.99,17.07,17.14,17.21,17.28,17.34,17.41,17.46,17.51,17.56,17.61,17.65,17.70,17.74,17.77,17.80,17.84,17.86,17.92,17.97,18.02,
  18.05,18.07,18.09,18.10,18.11,18.11,18.10,18.08,18.03,17.97,17.91,17.87,17.83,17.77,17.69,17.57,17.44,17.34,
  17.23,17.18,17.14,17.15,17.21,17.36,17.56,17.79,18.12,18.60,18.61,18.59,18.56,18.52,18.48,
  18.45,18.44,18.49,18.58,18.68,18.79,18.89,18.96,19.01,19.05,19.08,19.11,19.12,19.14];

// Spitzer model (magenta)
const spzModelT = [7431.1,7440,7445,7452,7459.6,7465,7469.5,7474,7478,7482,7486,7490,7494,7497.45,7497.8,7497.95,7498.1,
  7498.4,7498.8,7499.6,7500.7,7501.8,7503.2,7505.4,7507.8,7510.3,7512.7,7515.2,7517.6,7520.1,7522.8,7524.0,7525.2,
  7525.9,7526.4,7526.7,7526.9,7527.0,7527.35,7530.1,7535,7539.9,7545,7550,7555,7560,7565,7570,7575,7580,7585,7590,7595,7600.8];
const spzModelMag = [19.10,19.06,19.03,18.96,18.86,18.78,18.71,18.68,18.67,18.68,18.70,18.73,18.76,18.78,16.05,16.40,16.66,
  16.95,17.17,17.40,17.56,17.69,17.80,17.94,18.02,18.06,18.08,18.08,18.06,18.02,17.93,17.83,17.69,
  17.45,17.11,16.75,16.45,16.21,18.79,18.81,18.84,18.87,18.895,18.92,18.945,18.97,18.99,19.015,19.035,19.06,19.085,19.105,19.12,19.135];

// tick labels per panel
const tlXLabels = [7472, 7473, 7474, 7475, 7476];
const tlYLabels = [15, 16, 17, 18];
const trXLabels = [7530, 7532, 7534];
const trYLabels = [17, 17.5, 18, 18.5, 19];
const resYLabels = [0.4, 0.2, 0, -0.2, -0.4];
const mainXLabels = [7450, 7500, 7550, 7600];
const mainYLabels = [15, 16, 17, 18, 19];
const insXLabels = [7560, 7570, 7580];
const insYLabels = [18.9, 19, 19.1];
const insResLabels = [0.05, 0, -0.05];

const COL = { ogle: '#ff4500', ctio: '#1e90ff', saao: '#ffa500', sso: '#0a960a', spitzer: '#660066',
  model: '#000000', spzModel: '#ff5cff', zero: '#606060' };
const FONT = "'DejaVu Serif', serif";

const ground = [
  { rows: ctio, color: COL.ctio, order: 6 },
  { rows: saao, color: COL.saao, order: 5 },
  { rows: sso, color: COL.sso, order: 4 },
  { rows: ogle, color: COL.ogle, order: 3 }
];
const spz = { rows: spitzer, color: COL.spitzer, order: 2 };

function fmt(v) {
  return String(Math.round(v * 1000) / 1000).replace('-', '\u2212');
}

// vertical error bars with small caps, drawn under each dataset's points
const errorBars = {
  id: 'errorBars',
  beforeDatasetDraw(chart, args) {
    const ds = chart.data.datasets[args.index];
    if (!ds.errs) return;
    const { ctx, chartArea: a, scales: { x, y } } = chart;
    const cap = ds.cap || 2.5;
    ctx.save();
    ctx.beginPath();
    ctx.rect(a.left, a.top, a.right - a.left, a.bottom - a.top);
    ctx.clip();
    ctx.strokeStyle = ds.backgroundColor;
    ctx.lineWidth = ds.barWidth || 1.8;
    ctx.beginPath();
    ds.data.forEach((p, i) => {
      const px = x.getPixelForValue(p.x);
      if (px < a.left - 4 || px > a.right + 4) return;
      const y1 = y.getPixelForValue(p.y - ds.errs[i]);
      const y2 = y.getPixelForValue(p.y + ds.errs[i]);
      ctx.moveTo(px, y1); ctx.lineTo(px, y2);
      ctx.moveTo(px - cap, y1); ctx.lineTo(px + cap, y1);
      ctx.moveTo(px - cap, y2); ctx.lineTo(px + cap, y2);
    });
    ctx.stroke();
    ctx.restore();
  }
};

// box frame with inward major/minor ticks on all four sides
const frameTicks = {
  id: 'frameTicks',
  afterDraw(chart, args, o) {
    const { ctx, chartArea: a, scales: { x, y } } = chart;
    const vals = (min, max, step) => {
      const lo = Math.min(min, max), hi = Math.max(min, max), out = [];
      for (let k = Math.ceil(lo / step - 1e-6); k * step <= hi + 1e-6; k++) out.push(k * step);
      return out;
    };
    ctx.save();
    ctx.strokeStyle = '#000';
    ctx.lineWidth = o.tickW;
    ctx.beginPath();
    [[o.xMinor, o.minLen], [o.xMajor, o.majLen]].forEach(([step, len]) => {
      vals(x.min, x.max, step).forEach(v => {
        const px = Math.round(x.getPixelForValue(v));
        ctx.moveTo(px, a.bottom); ctx.lineTo(px, a.bottom - len);
        ctx.moveTo(px, a.top); ctx.lineTo(px, a.top + len);
      });
    });
    [[o.yMinor, o.minLen], [o.yMajor, o.majLen]].forEach(([step, len]) => {
      vals(y.min, y.max, step).forEach(v => {
        const py = Math.round(y.getPixelForValue(v));
        ctx.moveTo(a.left, py); ctx.lineTo(a.left + len, py);
        ctx.moveTo(a.right, py); ctx.lineTo(a.right - len, py);
      });
    });
    ctx.stroke();
    ctx.lineWidth = o.frameW;
    ctx.strokeRect(a.left, a.top, a.right - a.left, a.bottom - a.top);
    ctx.restore();
  }
};

function points(series, col, radius, style) {
  return series.map(s => ({
    data: s.rows.map(r => ({ x: r[0], y: r[col] })),
    errs: s.rows.map(r => r[2]),
    backgroundColor: s.color,
    borderWidth: 0,
    pointRadius: radius,
    pointStyle: style || 'circle',
    order: s.order
  }));
}

function curve(ts, vs, color, width, order) {
  return {
    data: ts.map((t, i) => ({ x: t, y: vs[i] })),
    showLine: true,
    borderColor: color,
    borderWidth: width,
    pointRadius: 0,
    cubicInterpolationMode: 'monotone',
    order: order
  };
}

// keep the plot box exactly where the frame goes: fixed axis sizes, no label overhang padding
function pin(s, prop, size) {
  s[prop] = size;
  s.paddingTop = 0; s.paddingBottom = 0; s.paddingLeft = 0; s.paddingRight = 0;
}

function panel(id, f, p, c) {
  const cv = document.getElementById(id);
  cv.width = f.w + p.l + p.r;
  cv.height = f.h + p.t + p.b;
  cv.style.left = (f.x - p.l) + 'px';
  cv.style.top = (f.y - p.t) + 'px';
  const fs = c.fs || 28;
  new Chart(cv, {
    type: 'scatter',
    data: { datasets: c.datasets },
    options: {
      responsive: false,
      animation: false,
      devicePixelRatio: 1,
      events: [],
      layout: { autoPadding: false, padding: { left: 0, top: p.t, right: p.r, bottom: 0 } },
      plugins: {
        legend: { display: false },
        tooltip: { enabled: false },
        frameTicks: { xMajor: c.xMajor, xMinor: c.xMinor, yMajor: c.yMajor, yMinor: c.yMinor,
          majLen: c.majLen || 19, minLen: c.minLen || 10, tickW: c.tickW || 2, frameW: c.frameW || 3 }
      },
      scales: {
        x: {
          type: 'linear', min: c.xr[0], max: c.xr[1],
          grid: { display: false, drawTicks: false }, border: { display: false },
          ticks: { display: !!c.xLabels, color: '#000', font: { family: FONT, size: fs }, padding: c.xPad || 12,
            maxRotation: 0, autoSkip: false, callback: v => fmt(v) },
          afterBuildTicks: s => { s.ticks = (c.xLabels || []).map(v => ({ value: v })); },
          afterFit: s => pin(s, 'height', p.b)
        },
        y: {
          type: 'linear', min: c.yr[0], max: c.yr[1], reverse: !!c.reverse,
          grid: { display: false, drawTicks: false }, border: { display: false },
          ticks: { color: '#000', font: { family: FONT, size: fs }, padding: c.yPad || 19,
            autoSkip: false, callback: v => fmt(v) },
          afterBuildTicks: s => { s.ticks = c.yLabels.map(v => ({ value: v })); },
          afterFit: s => pin(s, 'width', p.l)
        }
      }
    },
    plugins: [errorBars, frameTicks]
  });
}

const blackModel = () => curve(modelT, modelMag, COL.model, 2.6, 0);
const zeroLine = (x0, x1) => curve([x0, x1], [0, 0], COL.zero, 2.2, 0);

// top left: caustic entrance
const tlX = [7472, 7476.3];
panel('tl', { x: 138, y: 20, w: 516, h: 433 }, { l: 120, t: 18, r: 8, b: 6 }, {
  xr: tlX, yr: [15, 18.2], reverse: true, yLabels: tlYLabels,
  xMajor: 1, xMinor: 0.2, yMajor: 1, yMinor: 0.2,
  datasets: [...points(ground, 1, 1.7), blackModel()]
});
panel('tlr', { x: 138, y: 464, w: 516, h: 143 }, { l: 120, t: 16, r: 40, b: 50 }, {
  xr: tlX, yr: [-0.4, 0.4], xLabels: tlXLabels, yLabels: resYLabels,
  xMajor: 1, xMinor: 0.2, yMajor: 0.2, yMinor: 0.05,
  datasets: [...points(ground, 3, 1.7), zeroLine(tlX[0], tlX[1])]
});

// top right: second peak and caustic exit
const trX = [7529.17, 7535.0];
panel('tr', { x: 779, y: 20, w: 515, h: 433 }, { l: 110, t: 18, r: 8, b: 6 }, {
  xr: trX, yr: [16.7, 19.1], reverse: true, yLabels: trYLabels,
  xMajor: 2, xMinor: 0.5, yMajor: 0.5, yMinor: 0.1,
  datasets: [...points(ground, 1, 1.7), blackModel()]
});
panel('trr', { x: 779, y: 464, w: 515, h: 143 }, { l: 110, t: 16, r: 40, b: 50 }, {
  xr: trX, yr: [-0.4, 0.4], xLabels: trXLabels, yLabels: resYLabels,
  xMajor: 2, xMinor: 0.5, yMajor: 0.2, yMinor: 0.05,
  datasets: [...points(ground, 3, 1.7), zeroLine(trX[0], trX[1])]
});

// full season
const mainX = [7431.1, 7600.8];
panel('main', { x: 138, y: 694, w: 1155, h: 496 }, { l: 120, t: 18, r: 8, b: 6 }, {
  xr: mainX, yr: [15, 19.77], reverse: true, yLabels: mainYLabels,
  xMajor: 50, xMinor: 10, yMajor: 1, yMinor: 0.2,
  datasets: [...points(ground, 1, 1.6), ...points([spz], 1, 2.4, 'rect'),
    curve(spzModelT, spzModelMag, COL.spzModel, 2, 1), blackModel()]
});
panel('mainr', { x: 138, y: 1200, w: 1155, h: 170 }, { l: 120, t: 10, r: 43, b: 52 }, {
  xr: mainX, yr: [-0.553, 0.558], xLabels: mainXLabels, yLabels: resYLabels, xPad: 10,
  xMajor: 50, xMinor: 10, yMajor: 0.2, yMinor: 0.05,
  datasets: [...points(ground, 3, 1.6), ...points([spz], 3, 2.4, 'rect'), zeroLine(mainX[0], mainX[1])]
});

// Spitzer inset
const insX = [7552.9, 7587.8];
panel('ins', { x: 933, y: 744, w: 314, h: 133 }, { l: 80, t: 14, r: 6, b: 4 }, {
  xr: insX, yr: [18.83, 19.19], reverse: true, yLabels: insYLabels, fs: 21, yPad: 15,
  xMajor: 10, xMinor: 2, yMajor: 0.1, yMinor: 0.02, majLen: 10, minLen: 5, frameW: 2.5, tickW: 1.6,
  datasets: [...points([spz], 1, 2.4).map(d => Object.assign(d, { cap: 3 })),
    curve(spzModelT, spzModelMag, COL.spzModel, 2, 0)]
});
panel('insr', { x: 933, y: 883, w: 314, h: 95 }, { l: 80, t: 12, r: 24, b: 38 }, {
  xr: insX, yr: [-0.051, 0.052], xLabels: insXLabels, yLabels: insResLabels, fs: 21, yPad: 15, xPad: 9,
  xMajor: 10, xMinor: 2, yMajor: 0.05, yMinor: 0.01, majLen: 10, minLen: 5, frameW: 2.5, tickW: 1.6,
  datasets: [...points([spz], 3, 2.4).map(d => Object.assign(d, { cap: 3 })), zeroLine(insX[0], insX[1])]
});
</script>
</body>
</html>
